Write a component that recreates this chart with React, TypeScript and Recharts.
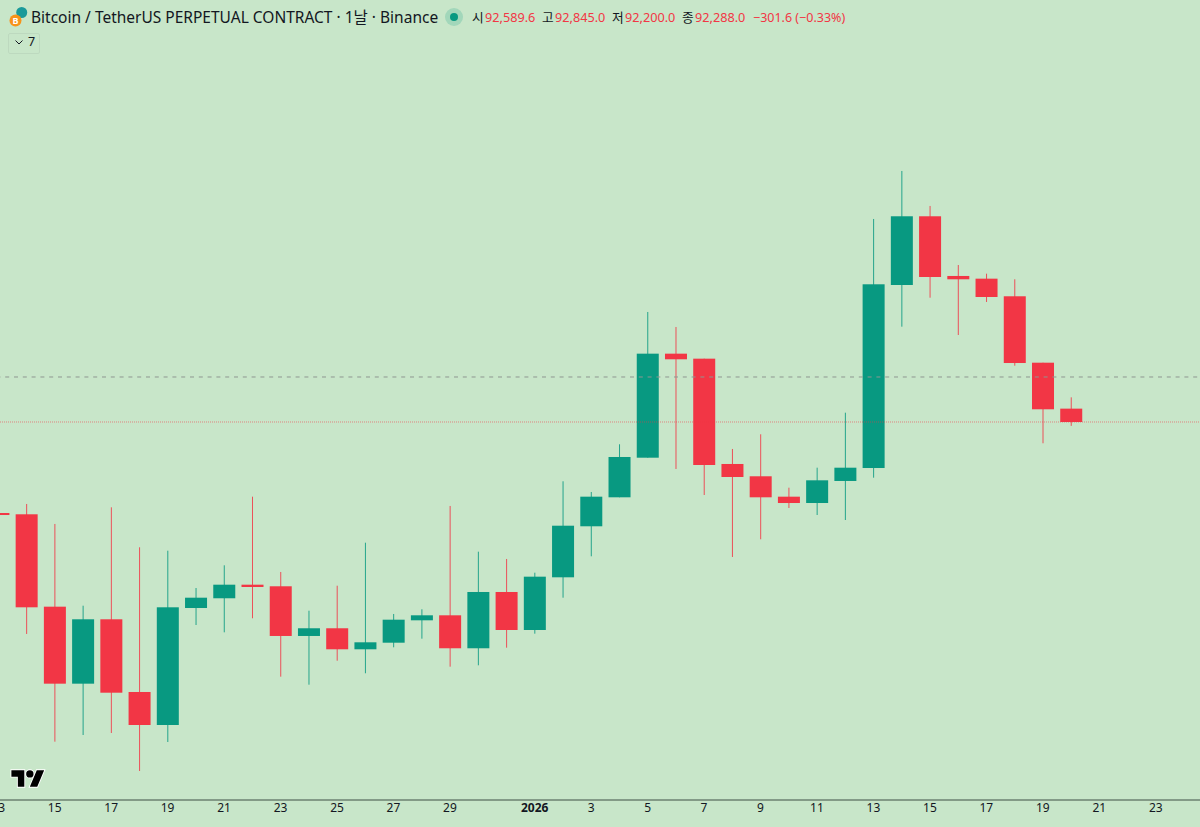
import React from "react";
import { ComposedChart, Bar, XAxis, YAxis, ReferenceLine } from "recharts";

const BG = "#C8E6C9";
const UP = "#089981";
const DOWN = "#F23645";
const FONT = "'Noto Sans', 'Noto Sans CJK KR', sans-serif";

// day index: December days keep their number, Jan 1 = 32
const days = [13,14,15,16,17,18,19,20,21,22,23,24,25,26,27,28,29,30,31,32,33,34,35,36,37,38,39,40,41,42,43,44,45,46,47,48,49,50,51];
const opens = [90231,90202,88114,86374,87829,86186,85440,88084,88304,88611,88575,87452,87626,87151,87300,87806,87919,87174,88446,87587,88778,89931,90586,91481,93832,93719,91339,91061,90600,90457,90955,91248,95384,96937,95588,95527,95129,93628,92589.6];
const highs = [90231,90435,89983,88136,90360,89456,89379,88536,89049,90600,88898,88023,88588,89560,87949,88055,90390,89357,89192,88882,90948,90706,91784,94774,94435,93719,91678,92010,90803,91255,92498,96876,97961,97170,95836,95640,95513,93628,92845];
const lows = [90186,87497,85063,85214,85259,84401,85056,87700,87535,87852,86532,86351,86893,86609,87196,87391,86758,86789,87187,87504,88317,89253,90586,91481,91226,90638,89237,89637,90344,90186,90073,91029,94442,95097,94254,95000,93560,91807,92200];
const closes = [90186,88100,86374,87829,86170,85440,88100,88317,88611,88559,87452,87626,87151,87309,87820,87919,87174,88446,87587,88792,89944,90600,91497,93832,93705,91316,91045,90586,90457,90970,91255,95400,96937,95565,95513,95113,93621,92575,92288];

const tickDays = [13,15,17,19,21,23,25,27,29,32,34,36,38,40,42,44,46,48,50,52,54];
const tickLabels = ["13","15","17","19","21","23","25","27","29","2026","3","5","7","9","11","13","15","17","19","21","23"];

const lastPrice = 92288;
const prevLevel = 93305;

const rows = days.map((day, i) => ({
  day,
  open: opens[i],
  high: highs[i],
  low: lows[i],
  close: closes[i],
  range: [lows[i], highs[i]],
}));

function Candle(props: any) {
  const { x, y, width, height, payload } = props;
  const { open, high, low, close } = payload;
  const perUnit = height / (high - low);
  const top = y + (high - Math.max(open, close)) * perUnit;
  const bottom = y + (high - Math.min(open, close)) * perUnit;
  const color = close >= open ? UP : DOWN;
  const cx = x + width / 2 + 0.3;
  return (
    <g>
      <line x1={cx} x2={cx} y1={y} y2={y + height} stroke={color} strokeWidth={1} strokeOpacity={0.85} />
      <rect x={cx - width / 2} y={top} width={width} height={Math.max(bottom - top, 2)} fill={color} />
    </g>
  );
}

function DayTick(props: any) {
  const { x, y, payload } = props;
  const label = tickLabels[tickDays.indexOf(payload.value)];
  return (
    <text x={x} y={y} textAnchor="middle" fontFamily={FONT} fontSize={12} fontWeight={label === "2026" ? 700 : 400} fill="#131722">
      {label}
    </text>
  );
}

function Label({ x, y, size, color, children, weight }: any) {
  return (
    <span style={{ position: "absolute", left: x, top: y, fontSize: size, color, fontWeight: weight, lineHeight: "18px", whiteSpace: "nowrap", fontFamily: FONT }}>
      {children}
    </span>
  );
}

const INK = "#131722";

export default function App() {
  return (
    <div style={{ position: "absolute", left: 0, top: 0, width: 1200, height: 827, overflow: "hidden", background: BG }}>
      <div style={{ position: "absolute", left: -30, top: 0 }}>
        <ComposedChart width={1260} height={827} data={rows} margin={{ top: 0, right: 0, bottom: 0, left: 0 }}>
          <XAxis
            dataKey="day"
            type="number"
            domain={[12, 56.63]}
            allowDataOverflow
            ticks={tickDays}
            interval={0}
            height={27}
            tick={<DayTick />}
            tickLine={false}
            tickMargin={6}
            axisLine={{ stroke: "#3f4f45", strokeWidth: 1 }}
          />
          <YAxis type="number" domain={[83745, 101825]} hide allowDataOverflow />
          <Bar dataKey="range" barSize={22} shape={<Candle />} isAnimationActive={false} />
          <ReferenceLine y={prevLevel} stroke="#8f9691" strokeDasharray="4 4.8" strokeWidth={1} />
          <ReferenceLine y={lastPrice} stroke={DOWN} strokeOpacity={0.55} strokeDasharray="1 1" strokeWidth={1} />
        </ComposedChart>
      </div>

      <svg style={{ position: "absolute", left: 8, top: 6 }} width={26} height={24} viewBox="0 0 26 24">
        <circle cx={13.7} cy={6.5} r={5.5} fill="#1a9a9a" />
        <circle cx={7.5} cy={14.5} r={6} fill="#F7931A" />
        <text x={7.5} y={18} textAnchor="middle" fontSize={9} fontWeight={700} fill="#fff" fontFamily={FONT}>B</text>
      </svg>
      <Label x={31} y={8} size={15.5} color={INK}>Bitcoin / TetherUS PERPETUAL CONTRACT · 1날 · Binance</Label>

      <svg style={{ position: "absolute", left: 445, top: 7 }} width={20} height={20} viewBox="0 0 20 20">
        <circle cx={9} cy={10} r={9} fill={UP} fillOpacity={0.2} />
        <circle cx={9} cy={10} r={4} fill={UP} />
      </svg>
      <Label x={472} y={8} size={12.7} color={INK}>시</Label>
      <Label x={485} y={8} size={12.7} color={DOWN}>92,589.6</Label>
      <Label x={542} y={8} size={12.7} color={INK}>고</Label>
      <Label x={555} y={8} size={12.7} color={DOWN}>92,845.0</Label>
      <Label x={612} y={8} size={12.7} color={INK}>저</Label>
      <Label x={625} y={8} size={12.7} color={DOWN}>92,200.0</Label>
      <Label x={682} y={8} size={12.7} color={INK}>종</Label>
      <Label x={695} y={8} size={12.7} color={DOWN}>92,288.0</Label>
      <Label x={753} y={9} size={12.5} color={DOWN}>−301.6 (−0.33%)</Label>

      <div style={{ position: "absolute", left: 8, top: 33, width: 30, height: 19, border: "1px solid rgba(19,23,34,0.06)", borderRadius: 2 }} />
      <svg style={{ position: "absolute", left: 14, top: 39 }} width={10} height={7} viewBox="0 0 10 7">
        <path d="M1.5 1.5 L5 5 L8.5 1.5" fill="none" stroke={INK} strokeWidth={1} />
      </svg>
      <Label x={28} y={33} size={12.5} color={INK}>7</Label>

      <svg style={{ position: "absolute", left: 10, top: 768 }} width={36} height={21} viewBox="-1.5 2.5 39 21">
        <g fill="#000" stroke="#fff" strokeWidth={2} style={{ paintOrder: "stroke" }}>
          <path d="M14 22H7V11H0V4h14v18zM28 22h-8l7.5-18h8L28 22z" />
          <circle cx={20} cy={8} r={4} />
        </g>
      </svg>
    </div>
  );
}
